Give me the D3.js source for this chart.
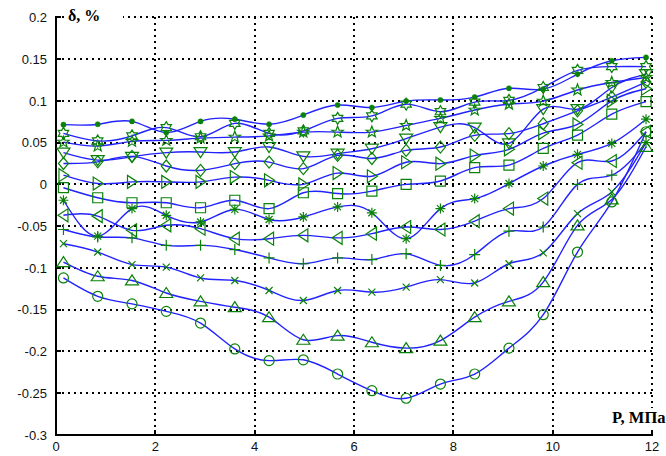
<!DOCTYPE html>
<html>
<head>
<meta charset="utf-8">
<script src="https://cdn.jsdelivr.net/npm/d3@7"></script>
<style>
  html, body { margin: 0; padding: 0; background: #fff; }
  svg { display: block; }
</style>
</head>
<body>
<svg id="chart" width="666" height="456"></svg>
<script>
// ---- data ----
const pressure = [0.15, 0.84, 1.53, 2.22, 2.91, 3.60, 4.29, 4.98, 5.67, 6.36, 7.05, 7.74, 8.43, 9.12, 9.81, 10.50, 11.19, 11.88];

const sDot      = [0.0715, 0.072, 0.0754, 0.062, 0.0754, 0.078, 0.072, 0.083, 0.095, 0.092, 0.0997, 0.101, 0.1045, 0.115, 0.114, 0.132, 0.148, 0.152];
const sHexagram = [0.061, 0.052, 0.058, 0.068, 0.057, 0.073, 0.061, 0.064, 0.079, 0.082, 0.096, 0.087, 0.0985, 0.1005, 0.116, 0.1365, 0.141, 0.141];
const sPentagram= [0.0506, 0.0458, 0.0515, 0.0527, 0.0554, 0.0566, 0.058, 0.0626, 0.0626, 0.0626, 0.0706, 0.079, 0.089, 0.096, 0.0997, 0.113, 0.122, 0.128];
const sTriDown  = [0.038, 0.029, 0.033, 0.038, 0.0387, 0.0387, 0.0447, 0.0335, 0.0367, 0.0427, 0.0547, 0.0686, 0.068, 0.049, 0.090, 0.090, 0.116, 0.132];
const sDiamond  = [0.025, 0.027, 0.0335, 0.022, 0.0168, 0.0248, 0.0267, 0.0188, 0.0347, 0.031, 0.0407, 0.0447, 0.0587, 0.0607, 0.0726, 0.088, 0.1045, 0.1225];
const sTriRight = [0.011, 0.001, 0.003, 0.003, 0.003, 0.0087, 0.0048, 0.000, 0.0135, 0.0097, 0.0265, 0.0248, 0.0345, 0.042, 0.0614, 0.0718, 0.100, 0.1145];
const sSquare   = [-0.004, -0.016, -0.022, -0.022, -0.028, -0.019, -0.029, -0.010, -0.011, -0.008, 0.000, 0.004, 0.020, 0.023, 0.043, 0.059, 0.084, 0.099];
const sAsterisk = [-0.019, -0.062, -0.029, -0.037, -0.045, -0.030, -0.042, -0.039, -0.027, -0.034, -0.065, -0.029, -0.017, 0.001, 0.022, 0.036, 0.049, 0.078];
const sTriLeft  = [-0.037, -0.038, -0.055, -0.049, -0.053, -0.065, -0.065, -0.061, -0.064, -0.059, -0.051, -0.054, -0.044, -0.029, -0.017, 0.026, 0.028, 0.063];
const sPlus     = [-0.054, -0.063, -0.064, -0.073, -0.073, -0.078, -0.088, -0.095, -0.088, -0.090, -0.083, -0.097, -0.084, -0.056, -0.051, 0.000, 0.011, 0.050];
const sCross    = [-0.071, -0.081, -0.096, -0.099, -0.112, -0.115, -0.127, -0.139, -0.127, -0.129, -0.123, -0.114, -0.118, -0.095, -0.082, -0.035, -0.009, 0.050];
const sTriUp    = [-0.093, -0.110, -0.115, -0.130, -0.140, -0.147, -0.159, -0.186, -0.181, -0.189, -0.196, -0.187, -0.159, -0.140, -0.117, -0.049, -0.018, 0.045];
const sCircle   = [-0.112, -0.134, -0.143, -0.152, -0.166, -0.197, -0.211, -0.210, -0.227, -0.247, -0.256, -0.239, -0.227, -0.196, -0.156, -0.081, -0.021, 0.063];

const xTicks = [0, 2, 4, 6, 8, 10, 12];
const yTicks = [-0.3, -0.25, -0.2, -0.15, -0.1, -0.05, 0, 0.05, 0.1, 0.15, 0.2];
const yTickLabels = ["-0.3", "-0.25", "-0.2", "-0.15", "-0.1", "-0.05", "0", "0.05", "0.1", "0.15", "0.2"];
const yTitle = "δ, %";
const xTitle = "P, МПа";

const seriesList = [
  { values: sDot, marker: "dot" },
  { values: sHexagram, marker: "hexagram" },
  { values: sPentagram, marker: "pentagram" },
  { values: sTriDown, marker: "triDown" },
  { values: sDiamond, marker: "diamond" },
  { values: sTriRight, marker: "triRight" },
  { values: sSquare, marker: "square" },
  { values: sAsterisk, marker: "asterisk" },
  { values: sTriLeft, marker: "triLeft" },
  { values: sPlus, marker: "plus" },
  { values: sCross, marker: "cross" },
  { values: sTriUp, marker: "triUp" },
  { values: sCircle, marker: "circle" }
];

// ---- layout ----
const svg = d3.select("#chart");
const x = d3.scaleLinear().domain([0, 12]).range([56, 652]);
const y = d3.scaleLinear().domain([-0.3, 0.2]).range([435, 17.3]);
const ry = v => Math.round(y(v));
const rx = v => Math.round(x(v));

const gridColor = "#000";
// horizontal grid
svg.append("g").selectAll("line").data(yTicks.filter(v => v > -0.3)).join("line")
  .attr("x1", x(0)).attr("x2", x(12))
  .attr("y1", d => ry(d)).attr("y2", d => ry(d))
  .attr("stroke", gridColor).attr("stroke-width", 2).attr("stroke-dasharray", "2,4");
// vertical grid
svg.append("g").selectAll("line").data(xTicks.filter(v => v > 0)).join("line")
  .attr("x1", d => rx(d)).attr("x2", d => rx(d))
  .attr("y1", ry(0.2)).attr("y2", ry(-0.3))
  .attr("stroke", gridColor).attr("stroke-width", 2).attr("stroke-dasharray", "2,4");

// axes lines
svg.append("line").attr("x1", rx(0)).attr("x2", rx(0)).attr("y1", ry(0.2) - 1).attr("y2", ry(-0.3) + 1)
  .attr("stroke", "#000").attr("stroke-width", 2);
svg.append("line").attr("x1", rx(0) - 1).attr("x2", rx(12) + 1).attr("y1", ry(-0.3)).attr("y2", ry(-0.3))
  .attr("stroke", "#000").attr("stroke-width", 2);
// inward ticks
svg.append("g").selectAll("line").data(yTicks).join("line")
  .attr("x1", rx(0)).attr("x2", rx(0) + 5).attr("y1", d => ry(d)).attr("y2", d => ry(d))
  .attr("stroke", "#000").attr("stroke-width", 2);
svg.append("g").selectAll("line").data(xTicks).join("line")
  .attr("x1", d => rx(d)).attr("x2", d => rx(d)).attr("y1", ry(-0.3)).attr("y2", ry(-0.3) - 5)
  .attr("stroke", "#000").attr("stroke-width", 2);

// tick labels
svg.append("g").selectAll("text").data(yTicks).join("text")
  .attr("x", 47).attr("y", d => y(d)).attr("dy", "0.36em")
  .attr("text-anchor", "end")
  .attr("font-family", "'Liberation Sans', Arial, sans-serif").attr("font-size", 13)
  .attr("fill", "#111")
  .text((d, i) => yTickLabels[i]);
svg.append("g").selectAll("text").data(xTicks).join("text")
  .attr("x", d => x(d)).attr("y", 451)
  .attr("text-anchor", "middle")
  .attr("font-family", "'Liberation Sans', Arial, sans-serif").attr("font-size", 13)
  .attr("fill", "#111")
  .text(d => d);

// axis titles with white backgrounds
svg.append("rect").attr("x", 66).attr("y", 8).attr("width", 57).attr("height", 17).attr("fill", "#fff");
svg.append("text").attr("x", 68).attr("y", 21)
  .attr("font-family", "'Liberation Serif', 'Times New Roman', serif").attr("font-weight", "bold")
  .attr("font-size", 16).attr("fill", "#000").text(yTitle);
svg.append("rect").attr("x", 609).attr("y", 408).attr("width", 57).attr("height", 19).attr("fill", "#fff");
svg.append("text").attr("x", 612).attr("y", 423)
  .attr("font-family", "'Liberation Serif', 'Times New Roman', serif").attr("font-weight", "bold")
  .attr("font-size", 16.5).attr("fill", "#000").text(xTitle);

// ---- lines ----
const line = d3.line().x((d, i) => x(pressure[i])).y(d => y(d)).curve(d3.curveNatural);
svg.append("g").selectAll("path").data(seriesList).join("path")
  .attr("d", s => line(s.values))
  .attr("fill", "none").attr("stroke", "#2222ff").attr("stroke-width", 1.4);

// ---- markers ----
function starPath(n, R, r) {
  let p = "";
  for (let k = 0; k < 2 * n; k++) {
    const a = -Math.PI / 2 + k * Math.PI / n;
    const rad = k % 2 === 0 ? R : r;
    p += (k === 0 ? "M" : "L") + (rad * Math.cos(a)).toFixed(2) + "," + (rad * Math.sin(a)).toFixed(2);
  }
  return p + "Z";
}
const markerPaths = {
  circle: "M5,0A5,5 0 1,1 -5,0A5,5 0 1,1 5,0Z",
  dot: "M2.6,0A2.6,2.6 0 1,1 -2.6,0A2.6,2.6 0 1,1 2.6,0Z",
  triUp: "M0,-5.5L6.5,4.5L-6.5,4.5Z",
  triDown: "M0,5.5L6.5,-4.5L-6.5,-4.5Z",
  triLeft: "M-5.5,0L4.5,-6.5L4.5,6.5Z",
  triRight: "M5.5,0L-4.5,-6.5L-4.5,6.5Z",
  diamond: "M0,-6L5,0L0,6L-5,0Z",
  square: "M-5,-5H5V5H-5Z",
  pentagram: starPath(5, 6, 2.5),
  hexagram: starPath(6, 6, 3.5),
  asterisk: "M0,-5V5M-5,0H5M-3.5,-3.5L3.5,3.5M-3.5,3.5L3.5,-3.5",
  plus: "M0,-5.5V5.5M-5.5,0H5.5",
  cross: "M-3.5,-3.5L3.5,3.5M-3.5,3.5L3.5,-3.5"
};
const green = "#0a820a";
seriesList.forEach(s => {
  svg.append("g").selectAll("path").data(s.values).join("path")
    .attr("transform", (d, i) => `translate(${x(pressure[i])},${y(d)})`)
    .attr("d", markerPaths[s.marker])
    .attr("fill", s.marker === "dot" ? green : "none")
    .attr("stroke", green).attr("stroke-width", s.marker === "dot" ? 0.5 : 1.2);
});
</script>
</body>
</html>
